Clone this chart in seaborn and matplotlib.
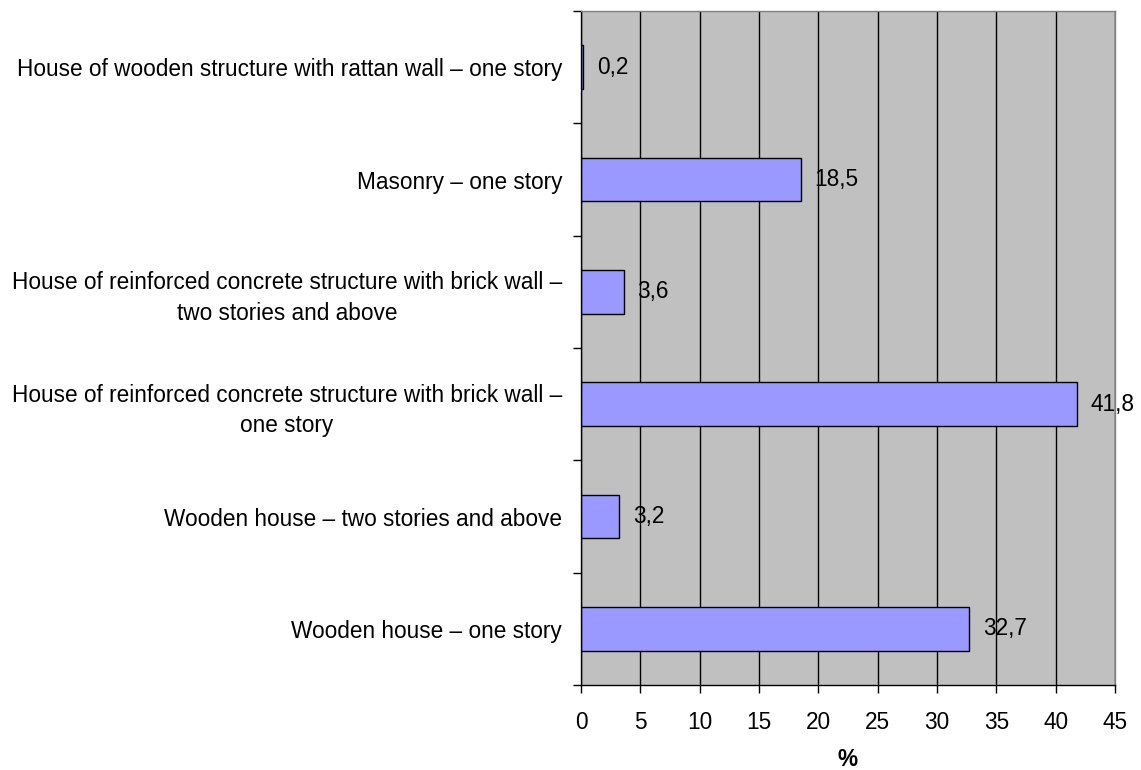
import numpy as np
import pandas as pd
import seaborn as sns
import matplotlib.pyplot as plt
from matplotlib.ticker import MultipleLocator

categories = [
    "House of wooden structure with rattan wall \u2013 one story",
    "Masonry \u2013 one story",
    "House of reinforced concrete structure with brick wall \u2013\ntwo stories and above",
    "House of reinforced concrete structure with brick wall \u2013\none story",
    "Wooden house \u2013 two stories and above",
    "Wooden house \u2013 one story",
]
values = [0.2, 18.5, 3.6, 41.8, 3.2, 32.7]
xticks = [0, 5, 10, 15, 20, 25, 30, 35, 40, 45]

sns.set_style("white")
plt.rcParams['font.family'] = ['Liberation Sans', 'DejaVu Sans']
plt.rcParams['text.color'] = 'black'
plt.rcParams['xtick.color'] = 'black'
plt.rcParams['ytick.color'] = 'black'
plt.rcParams['axes.labelcolor'] = 'black'
fs = 16.3

df = pd.DataFrame({'cat': categories, 'val': values})

fig = plt.figure(figsize=(11.41, 7.7), dpi=100)
ax = fig.add_axes([581/1141, 1 - 685/770, (1115-581)/1141, (685-11)/770])
ax.set_facecolor('#C0C0C0')
ax.set_axisbelow(True)

sns.barplot(data=df, x='val', y='cat', orient='h', color='#9999FF', saturation=1,
            edgecolor='black', linewidth=1, width=0.39, ax=ax)

labels = [f"{v:.1f}".replace('.', ',') for v in values]
ax.bar_label(ax.containers[0], labels=labels, padding=10, fontsize=fs)

ax.set_xlim(0, 45)
ax.set_ylim(5.5, -0.5)
ax.set_xticks(xticks)
ax.set_xticklabels([str(t) for t in xticks], fontsize=fs)
ax.grid(axis='x', color='black', linewidth=1)
ax.grid(axis='y', visible=False)

ax.yaxis.set_minor_locator(MultipleLocator(1, offset=0.5))
ax.tick_params(axis='y', which='major', length=0, pad=13.5, labelsize=fs)
ax.tick_params(axis='y', which='minor', length=6, width=1, color='black', direction='out', left=True)
ax.tick_params(axis='x', which='major', length=6, width=1, color='black', direction='out', bottom=True, pad=12.5)
for lbl in ax.get_yticklabels():
    lbl.set_horizontalalignment('right')
    lbl.set_multialignment('center')
    lbl.set_linespacing(1.4)

ax.set_ylabel('')
ax.set_xlabel('%', fontsize=fs, fontweight='bold', labelpad=10)

for s in ['left', 'bottom']:
    ax.spines[s].set_color('black')
    ax.spines[s].set_linewidth(1)
for s in ['top', 'right']:
    ax.spines[s].set_color('#808080')
    ax.spines[s].set_linewidth(1)

fig.savefig('out.png', dpi=100)
